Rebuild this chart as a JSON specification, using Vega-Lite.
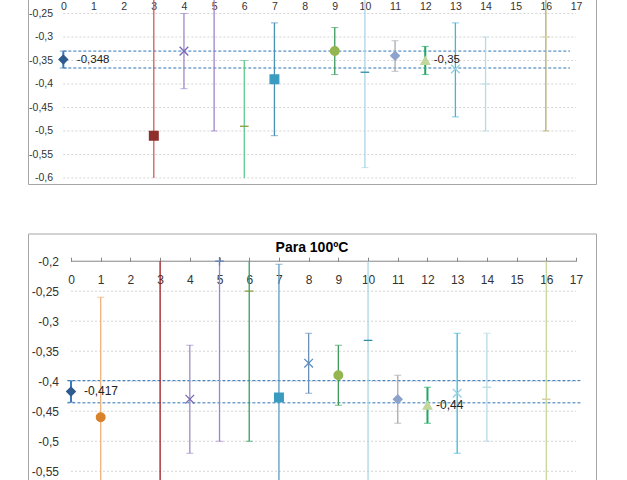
{
  "$schema": "https://vega.github.io/schema/vega-lite/v6.json",
  "background": "white",
  "padding": {"left": 27, "top": -30, "right": 0, "bottom": 0},
  "spacing": 47.5,
  "config": {
    "locale": {"number": {"decimal": ",", "thousands": ".", "grouping": [3], "currency": ["", " €"], "minus": "-"}},
    "view": {"stroke": "#A6A6A6", "strokeWidth": 1},
    "font": "Liberation Sans"
  },
  "resolve": {"scale": {"x": "independent", "y": "independent", "color": "independent", "fill": "independent", "stroke": "independent", "shape": "independent"}},
  "datasets": {
    "gridTop": [{"v": -0.25}, {"v": -0.3}, {"v": -0.35}, {"v": -0.4}, {"v": -0.45}, {"v": -0.5}, {"v": -0.55}, {"v": -0.6}],
    "gridBottom": [{"v": -0.25}, {"v": -0.3}, {"v": -0.35}, {"v": -0.4}, {"v": -0.45}, {"v": -0.5}, {"v": -0.55}, {"v": -0.6}],
    "meanTop": [{"v": -0.33}, {"v": -0.366}],
    "meanBottom": [{"v": -0.399}, {"v": -0.436}],
    "top": [
      {"x": 0, "y": -0.348, "lo": -0.366, "hi": -0.33, "label": "-0,348"},
      {"x": 3, "y": -0.51, "lo": -0.6, "hi": -0.2},
      {"x": 4, "y": -0.33, "lo": -0.41, "hi": -0.25},
      {"x": 5, "y": null, "lo": -0.5, "hi": -0.2},
      {"x": 6, "y": -0.49, "lo": -0.6, "hi": -0.35},
      {"x": 7, "y": -0.39, "lo": -0.51, "hi": -0.27},
      {"x": 9, "y": -0.33, "lo": -0.38, "hi": -0.28},
      {"x": 10, "y": -0.375, "lo": -0.578, "hi": -0.2},
      {"x": 11, "y": -0.34, "lo": -0.373, "hi": -0.308},
      {"x": 12, "y": -0.35, "lo": -0.38, "hi": -0.32, "label": "-0,35"},
      {"x": 13, "y": -0.368, "lo": -0.47, "hi": -0.27},
      {"x": 14, "y": -0.4, "lo": -0.5, "hi": -0.3},
      {"x": 16, "y": -0.3, "lo": -0.5, "hi": -0.2}
    ],
    "bottom": [
      {"x": 0, "y": -0.417, "lo": -0.435, "hi": -0.399, "label": "-0,417"},
      {"x": 1, "y": -0.46, "lo": -0.7, "hi": -0.26},
      {"x": 3, "y": null, "lo": -0.7, "hi": -0.2},
      {"x": 4, "y": -0.43, "lo": -0.52, "hi": -0.34},
      {"x": 5, "y": -0.2, "lo": -0.5, "hi": -0.2},
      {"x": 6, "y": -0.25, "lo": -0.5, "hi": -0.2},
      {"x": 7, "y": -0.427, "lo": -0.7, "hi": -0.205},
      {"x": 8, "y": -0.37, "lo": -0.42, "hi": -0.32},
      {"x": 9, "y": -0.39, "lo": -0.44, "hi": -0.34},
      {"x": 10, "y": -0.332, "lo": -0.7, "hi": -0.2},
      {"x": 11, "y": -0.43, "lo": -0.47, "hi": -0.39},
      {"x": 12, "y": -0.44, "lo": -0.47, "hi": -0.41, "label": "-0,44"},
      {"x": 13, "y": -0.42, "lo": -0.52, "hi": -0.32},
      {"x": 14, "y": -0.41, "lo": -0.5, "hi": -0.32},
      {"x": 16, "y": -0.43, "lo": -0.7, "hi": -0.2}
    ]
  },
  "vconcat": [
    {
      "width": 568,
      "height": 213,
      "layer": [
        {
          "data": {"name": "gridTop"},
          "mark": {"type": "rule", "color": "#D4D4D4", "strokeDash": [2, 2], "strokeWidth": 1, "clip": true},
          "encoding": {
            "y": {"field": "v", "type": "quantitative", "scale": {"domain": [-0.6128, -0.1596], "nice": false, "zero": false},
                  "axis": {"orient": "left", "offset": -35.33, "values": [-0.25, -0.3, -0.35, -0.4, -0.45, -0.5, -0.55, -0.6], "tickCount": 40, "format": "~g", "domain": false, "ticks": false, "tickSize": 0, "grid": false, "labelOverlap": false, "labelPadding": 10.8, "labelFontSize": 10.5, "labelColor": "#333333", "title": null}},
            "x": {"datum": 0, "type": "quantitative", "scale": {"domain": [-1.171, 17.662], "nice": false, "zero": false},
                  "axis": {"orient": "top", "offset": -19.17, "values": [0,1,2,3,4,5,6,7,8,9,10,11,12,13,14,15,16,17], "tickCount": 40, "format": "d", "domain": false, "ticks": true, "tickSize": 4, "tickColor": "#868686", "grid": false, "labelOverlap": false, "labelPadding": -20.8, "labelBaseline": "middle", "labelFlush": false, "labelFontSize": 10.5, "labelColor": "#333333", "title": null}},
            "x2": {"datum": 17}
          }
        },
        {
          "data": {"values": [{}]},
          "mark": {"type": "rule", "color": "#868686", "strokeWidth": 1, "clip": true},
          "encoding": {
            "y": {"datum": -0.2, "type": "quantitative", "axis": {"title": null}},
            "x": {"datum": 0, "type": "quantitative", "axis": {"title": null}},
            "x2": {"datum": 17}
          }
        },
        {
          "data": {"name": "meanTop"},
          "mark": {"type": "rule", "color": "#2E75B6", "strokeDash": [3, 2], "strokeWidth": 1, "clip": true},
          "encoding": {
            "y": {"field": "v", "type": "quantitative", "axis": {"title": null}},
            "x": {"datum": 0, "type": "quantitative", "axis": {"title": null}},
            "x2": {"datum": 16.8}
          }
        },
        {
          "data": {"name": "top"},
          "mark": {"type": "rule", "clip": true},
          "encoding": {
            "x": {"field": "x", "type": "quantitative", "axis": {"title": null}},
            "y": {"field": "lo", "type": "quantitative", "axis": {"title": null}},
            "y2": {"field": "hi"},
            "strokeWidth": {"condition": {"test": "datum.x == 0 || datum.x == 12", "value": 2}, "value": 1.3},
            "color": {"field": "x", "type": "nominal", "legend": null,
              "scale": {"domain": [0,3,4,5,6,7,9,10,11,12,13,14,16],
                        "range": ["#3A78B8","#D55A5A","#9E8AC8","#9E84CF","#5CCB8E","#4A8FB5","#3C9A5C","#A9D6E5","#A8A8B0","#1FA862","#46B5D5","#B6DAE6","#B3AC6E"]}}
          }
        },
        {
          "data": {"name": "top"},
          "transform": [{"filter": "datum.lo > -0.599"}],
          "mark": {"type": "tick", "orient": "horizontal", "size": 7, "clip": true},
          "encoding": {
            "x": {"field": "x", "type": "quantitative", "axis": {"title": null}},
            "y": {"field": "lo", "type": "quantitative", "axis": {"title": null}},
            "strokeWidth": {"condition": {"test": "datum.x == 0 || datum.x == 12", "value": 2}, "value": 1.3},
            "color": {"field": "x", "type": "nominal", "legend": null}
          }
        },
        {
          "data": {"name": "top"},
          "transform": [{"filter": "datum.hi < -0.201"}],
          "mark": {"type": "tick", "orient": "horizontal", "size": 7, "clip": true},
          "encoding": {
            "x": {"field": "x", "type": "quantitative", "axis": {"title": null}},
            "y": {"field": "hi", "type": "quantitative", "axis": {"title": null}},
            "strokeWidth": {"condition": {"test": "datum.x == 0 || datum.x == 12", "value": 2}, "value": 1.3},
            "color": {"field": "x", "type": "nominal", "legend": null}
          }
        },
        {
          "data": {"name": "top"},
          "mark": {"type": "point", "filled": true, "size": 75, "strokeWidth": 1.3, "opacity": 1, "clip": true},
          "encoding": {
            "x": {"field": "x", "type": "quantitative", "axis": {"title": null}},
            "y": {"field": "y", "type": "quantitative", "axis": {"title": null}},
            "shape": {"field": "x", "type": "nominal", "legend": null,
              "scale": {"domain": [0,3,4,6,7,9,10,11,12,13,14,16],
                        "range": ["diamond","square","M-1,-1L1,1M-1,1L1,-1","M-1,0L1,0","square","circle","M-1,0L1,0","diamond","triangle-up","M-1,-1L1,1M-1,1L1,-1","M-1,0L1,0","M-1,0L1,0"]}},
            "fill": {"field": "x", "type": "nominal", "legend": null,
              "scale": {"domain": [0,3,4,6,7,9,10,11,12,13,14,16],
                        "range": ["#2F5C8F","#8E2F2E","#7A68B0","#8A9A3E","#3A9BC1","#94B550","#2E8BA8","#8DA3CC","#C3D69B","#8FCFE0","#C0E0EA","#DCD6AE"]}},
            "stroke": {"field": "x", "type": "nominal", "legend": null,
              "scale": {"domain": [0,3,4,6,7,9,10,11,12,13,14,16],
                        "range": ["#2F5C8F","#8E2F2E","#7A68B0","#8A9A3E","#3A9BC1","#94B550","#2E8BA8","#8DA3CC","#C3D69B","#8FCFE0","#C0E0EA","#DCD6AE"]}}
          }
        },
        {
          "data": {"name": "top"},
          "transform": [{"filter": "datum.x == 0"}],
          "mark": {"type": "text", "align": "left", "baseline": "middle", "dx": 13.5, "fontSize": 11.5, "color": "#222222"},
          "encoding": {
            "x": {"field": "x", "type": "quantitative", "axis": {"title": null}},
            "y": {"field": "y", "type": "quantitative", "axis": {"title": null}},
            "text": {"field": "label"}
          }
        },
        {
          "data": {"name": "top"},
          "transform": [{"filter": "datum.x == 12"}],
          "mark": {"type": "text", "align": "left", "baseline": "middle", "dx": 8.5, "fontSize": 11.5, "color": "#222222"},
          "encoding": {
            "x": {"field": "x", "type": "quantitative", "axis": {"title": null}},
            "y": {"field": "y", "type": "quantitative", "axis": {"title": null}},
            "text": {"field": "label"}
          }
        }
      ]
    },
    {
      "width": 568,
      "height": 260,
      "title": {"text": "Para 100ºC", "offset": -32, "baseline": "alphabetic", "anchor": "middle", "fontSize": 14, "fontWeight": "bold", "color": "#000000", "font": "Liberation Sans"},
      "layer": [
        {
          "data": {"name": "gridBottom"},
          "mark": {"type": "rule", "color": "#D4D4D4", "strokeDash": [2, 2], "strokeWidth": 1, "clip": true},
          "encoding": {
            "y": {"field": "v", "type": "quantitative", "scale": {"domain": [-0.5871, -0.1538], "nice": false, "zero": false},
                  "axis": {"orient": "left", "offset": -43, "values": [-0.2, -0.25, -0.3, -0.35, -0.4, -0.45, -0.5, -0.55], "tickCount": 40, "format": "~g", "domain": false, "ticks": false, "tickSize": 0, "grid": false, "labelOverlap": false, "labelPadding": 12.5, "labelFontSize": 12, "labelColor": "#333333", "title": null}},
            "x": {"datum": 0, "type": "quantitative", "scale": {"domain": [-1.447, 17.673], "nice": false, "zero": false},
                  "axis": {"orient": "top", "offset": -27.7, "values": [0,1,2,3,4,5,6,7,8,9,10,11,12,13,14,15,16,17], "tickCount": 40, "format": "d", "domain": false, "ticks": true, "tickSize": 4, "tickColor": "#868686", "grid": false, "labelOverlap": false, "labelPadding": -22, "labelBaseline": "middle", "labelFlush": false, "labelFontSize": 12, "labelColor": "#333333", "title": null}},
            "x2": {"datum": 17}
          }
        },
        {
          "data": {"values": [{}]},
          "mark": {"type": "rule", "color": "#868686", "strokeWidth": 1, "clip": true},
          "encoding": {
            "y": {"datum": -0.2, "type": "quantitative", "axis": {"title": null}},
            "x": {"datum": 0, "type": "quantitative", "axis": {"title": null}},
            "x2": {"datum": 17}
          }
        },
        {
          "data": {"name": "meanBottom"},
          "mark": {"type": "rule", "color": "#2E75B6", "strokeDash": [3, 2], "strokeWidth": 1, "clip": true},
          "encoding": {
            "y": {"field": "v", "type": "quantitative", "axis": {"title": null}},
            "x": {"datum": -0.12, "type": "quantitative", "axis": {"title": null}},
            "x2": {"datum": 17.17}
          }
        },
        {
          "data": {"name": "bottom"},
          "mark": {"type": "rule", "clip": true},
          "encoding": {
            "x": {"field": "x", "type": "quantitative", "axis": {"title": null}},
            "y": {"field": "lo", "type": "quantitative", "axis": {"title": null}},
            "y2": {"field": "hi"},
            "strokeWidth": {"condition": {"test": "datum.x == 0 || datum.x == 12", "value": 2}, "value": 1.3},
            "color": {"field": "x", "type": "nominal", "legend": null,
              "scale": {"domain": [0,1,3,4,5,6,7,8,9,10,11,12,13,14,16],
                        "range": ["#3A78B8","#F2B27A","#A0151A","#9E8AC8","#9E84CF","#2FA060","#5B9AC0","#6A8FB8","#3C9A5C","#A9D6E5","#A8A8B0","#1FA862","#46B5D5","#B6DAE6","#C4D79B"]}}
          }
        },
        {
          "data": {"name": "bottom"},
          "transform": [{"filter": "datum.lo > -0.65"}],
          "mark": {"type": "tick", "orient": "horizontal", "size": 7, "clip": true},
          "encoding": {
            "x": {"field": "x", "type": "quantitative", "axis": {"title": null}},
            "y": {"field": "lo", "type": "quantitative", "axis": {"title": null}},
            "strokeWidth": {"condition": {"test": "datum.x == 0 || datum.x == 12", "value": 2}, "value": 1.3},
            "color": {"field": "x", "type": "nominal", "legend": null}
          }
        },
        {
          "data": {"name": "bottom"},
          "transform": [{"filter": "datum.hi < -0.201"}],
          "mark": {"type": "tick", "orient": "horizontal", "size": 7, "clip": true},
          "encoding": {
            "x": {"field": "x", "type": "quantitative", "axis": {"title": null}},
            "y": {"field": "hi", "type": "quantitative", "axis": {"title": null}},
            "strokeWidth": {"condition": {"test": "datum.x == 0 || datum.x == 12", "value": 2}, "value": 1.3},
            "color": {"field": "x", "type": "nominal", "legend": null}
          }
        },
        {
          "data": {"name": "bottom"},
          "mark": {"type": "point", "filled": true, "size": 75, "strokeWidth": 1.3, "opacity": 1, "clip": true},
          "encoding": {
            "x": {"field": "x", "type": "quantitative", "axis": {"title": null}},
            "y": {"field": "y", "type": "quantitative", "axis": {"title": null}},
            "shape": {"field": "x", "type": "nominal", "legend": null,
              "scale": {"domain": [0,1,4,5,6,7,8,9,10,11,12,13,14,16],
                        "range": ["diamond","circle","M-1,-1L1,1M-1,1L1,-1","M-1,0L1,0M0,-1L0,1","M-1,0L1,0","square","M-1,-1L1,1M-1,1L1,-1","circle","M-1,0L1,0","diamond","triangle-up","M-1,-1L1,1M-1,1L1,-1","M-1,0L1,0","M-1,0L1,0"]}},
            "fill": {"field": "x", "type": "nominal", "legend": null,
              "scale": {"domain": [0,1,4,5,6,7,8,9,10,11,12,13,14,16],
                        "range": ["#2F5C8F","#D9822B","#7A68B0","#5F7FC0","#8A9A3E","#3A9BC1","#5B8CC0","#94B550","#2E8BA8","#8DA3CC","#C3D69B","#8FCFE0","#C0E0EA","#D8CFA8"]}},
            "stroke": {"field": "x", "type": "nominal", "legend": null,
              "scale": {"domain": [0,1,4,5,6,7,8,9,10,11,12,13,14,16],
                        "range": ["#2F5C8F","#D9822B","#7A68B0","#5F7FC0","#8A9A3E","#3A9BC1","#5B8CC0","#94B550","#2E8BA8","#8DA3CC","#C3D69B","#8FCFE0","#C0E0EA","#D8CFA8"]}}
          }
        },
        {
          "data": {"name": "bottom"},
          "transform": [{"filter": "datum.x == 0"}],
          "mark": {"type": "text", "align": "left", "baseline": "middle", "dx": 13, "fontSize": 12, "color": "#222222"},
          "encoding": {
            "x": {"field": "x", "type": "quantitative", "axis": {"title": null}},
            "y": {"field": "y", "type": "quantitative", "axis": {"title": null}},
            "text": {"field": "label"}
          }
        },
        {
          "data": {"name": "bottom"},
          "transform": [{"filter": "datum.x == 12"}],
          "mark": {"type": "text", "align": "left", "baseline": "middle", "dx": 8.5, "fontSize": 12, "color": "#222222"},
          "encoding": {
            "x": {"field": "x", "type": "quantitative", "axis": {"title": null}},
            "y": {"field": "y", "type": "quantitative", "axis": {"title": null}},
            "text": {"field": "label"}
          }
        }
      ]
    }
  ]
}
